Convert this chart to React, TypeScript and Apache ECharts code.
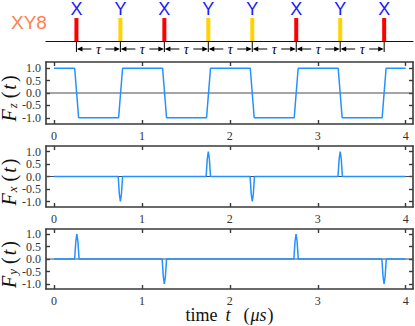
import { useEffect, useRef } from 'react';
import * as echarts from 'echarts';

const X_MIN = -0.091;
const X_MAX = 4.083;
const xTicks = [0, 1, 2, 3, 4];
const yTicks = [-1, -0.5, 0, 0.5, 1];

const sequenceName = 'XY8';
const tauLabel = 'τ';
const pulseTimes = [0.255, 0.755, 1.255, 1.755, 2.255, 2.755, 3.255, 3.755];
const pulseLabels = ['X', 'Y', 'X', 'Y', 'Y', 'X', 'Y', 'X'];

const fzPoints = [
  [0, 1], [0.235, 1], [0.28, -1], [0.735, -1], [0.78, 1], [1.235, 1], [1.28, -1],
  [1.735, -1], [1.78, 1], [2.232, 1], [2.277, -1], [2.732, -1], [2.777, 1],
  [3.232, 1], [3.277, -1], [3.732, -1], [3.777, 1], [4, 1],
];
const fxPoints = [
  [0, 0], [0.73, 0], [0.743, -0.7], [0.755, -1], [0.767, -0.7], [0.78, 0],
  [1.73, 0], [1.743, 0.7], [1.755, 1], [1.767, 0.7], [1.78, 0],
  [2.23, 0], [2.243, -0.7], [2.255, -1], [2.267, -0.7], [2.28, 0],
  [3.23, 0], [3.243, 0.7], [3.255, 1], [3.267, 0.7], [3.28, 0], [4, 0],
];
const fyPoints = [
  [0, 0], [0.235, 0], [0.248, 0.7], [0.26, 1], [0.272, 0.7], [0.285, 0],
  [1.23, 0], [1.243, -0.7], [1.255, -1], [1.267, -0.7], [1.28, 0],
  [2.728, 0], [2.741, 0.7], [2.753, 1], [2.765, 0.7], [2.778, 0],
  [3.729, 0], [3.742, -0.7], [3.754, -1], [3.766, -0.7], [3.779, 0], [4, 0],
];
const panelSubs = ['z', 'x', 'y'];
const panelRanges = [[-1.25, 1.25], [-1.22, 1.22], [-1.2, 1.2]];

const SERIF = 'Liberation Serif';
const SANS = 'Liberation Sans';
const FRAME = '#3a3a3a';
const BLUE = '#2590ff';

export default function App() {
  const ref = useRef<HTMLDivElement>(null);
  useEffect(() => {
    const chart = echarts.init(ref.current!, null, { renderer: 'svg' });
    const gb = { left: 46, width: 367, outerBoundsMode: 'none', containLabel: false };
    const grids = [
      { ...gb, top: 0, height: 41 },
      { ...gb, top: 62, height: 62 },
      { ...gb, top: 146, height: 61 },
      { ...gb, top: 229, height: 60 },
    ];
    const frameLine = { show: true, onZero: false, lineStyle: { color: FRAME, width: 1.6 } };
    const tickStyle = { inside: true, length: 4, customValues: xTicks, lineStyle: { color: FRAME, width: 1.4 } };
    const xAxes: any[] = [
      {
        gridIndex: 0, type: 'value', min: X_MIN, max: X_MAX,
        axisLine: { show: true, onZero: false, lineStyle: { color: '#111', width: 1.2 } },
        axisTick: { show: false }, axisLabel: { show: false }, splitLine: { show: false },
      },
    ];
    const yAxes: any[] = [
      { gridIndex: 0, type: 'value', min: 0, max: 1, show: false },
    ];
    const series: any[] = [];
    const datas = [fzPoints, fxPoints, fyPoints];
    for (let g = 1; g <= 3; g++) {
      const last = g === 3;
      xAxes.push({
        gridIndex: g, type: 'value', min: X_MIN, max: X_MAX, position: 'bottom',
        axisLine: frameLine, axisTick: tickStyle,
        axisLabel: { customValues: xTicks, margin: 6, fontFamily: SERIF, fontSize: 12, color: '#333' },
        splitLine: { show: false },
        ...(last ? {
          name: '{a|time}{i|t}{b|(}{m|μs}{c|)}',
          nameLocation: 'middle', nameGap: 17, nameMoveOverlap: false,
          nameTextStyle: {
            rich: {
              a: { fontFamily: SERIF, fontSize: 18, color: '#111', padding: [0, 8, 0, 0] },
              i: { fontFamily: SERIF, fontStyle: 'italic', fontSize: 18, color: '#111', padding: [0, 13, 0, 0] },
              b: { fontFamily: SERIF, fontSize: 18, color: '#111', padding: [0, 1, 0, 0] },
              m: { fontFamily: SERIF, fontStyle: 'italic', fontSize: 18, color: '#111', padding: [0, 1, 0, 0] },
              c: { fontFamily: SERIF, fontSize: 18, color: '#111' },
            },
          },
        } : {}),
      });
      xAxes.push({
        gridIndex: g, type: 'value', min: X_MIN, max: X_MAX, position: 'top',
        axisLine: frameLine, axisTick: tickStyle, axisLabel: { show: false }, splitLine: { show: false },
      });
      const [lo, hi] = panelRanges[g - 1];
      const yTickStyle = { inside: true, length: 4, customValues: yTicks, lineStyle: { color: FRAME, width: 1.4 } };
      yAxes.push({
        gridIndex: g, type: 'value', min: lo, max: hi, position: 'left',
        axisLine: frameLine, axisTick: yTickStyle,
        axisLabel: {
          customValues: yTicks, margin: 5, fontFamily: SERIF, fontSize: 12, color: '#333',
          formatter: (v: number) => v.toFixed(1),
        },
        splitLine: { show: false },
        name: `{f|F}{s|${panelSubs[g - 1]}}{o|(}{t|t}{c|)}`,
        nameLocation: 'middle', nameGap: 27, nameRotate: 90, nameMoveOverlap: false,
        nameTextStyle: {
          rich: {
            f: { fontFamily: SERIF, fontStyle: 'italic', fontSize: 20, color: '#111' },
            s: { fontFamily: SERIF, fontStyle: 'italic', fontSize: 13, color: '#111', verticalAlign: 'bottom', padding: [0, 3, 0, 1] },
            o: { fontFamily: SERIF, fontSize: 20, color: '#111', padding: [0, 0, 0, 2] },
            t: { fontFamily: SERIF, fontStyle: 'italic', fontSize: 20, color: '#111', padding: [0, 2, 0, 2] },
            c: { fontFamily: SERIF, fontSize: 20, color: '#111', padding: [0, 11, 0, 0] },
          },
        },
      });
      yAxes.push({
        gridIndex: g, type: 'value', min: lo, max: hi, position: 'right',
        axisLine: frameLine, axisTick: yTickStyle, axisLabel: { show: false }, splitLine: { show: false },
      });
      const xi = 1 + (g - 1) * 2;
      const yi = 1 + (g - 1) * 2;
      series.push({
        type: 'line', xAxisIndex: xi, yAxisIndex: yi, data: [[X_MIN, 0], [X_MAX, 0]],
        showSymbol: false, symbol: 'none', silent: true, z: 1,
        lineStyle: { color: '#4a4a4a', width: 1 },
      });
      series.push({
        type: 'line', xAxisIndex: xi, yAxisIndex: yi, data: datas[g - 1],
        showSymbol: false, symbol: 'none', z: 3,
        lineStyle: { color: BLUE, width: 1.5 },
      });
    }

    series.push({
      type: 'custom', xAxisIndex: 0, yAxisIndex: 0, clip: false,
      data: pulseTimes.map((t, i) => [t, i]),
      renderItem: (params: any, api: any) => {
        const x = api.coord([api.value(0), 0])[0];
        const cs = params.coordSys;
        const base = cs.y + cs.height;
        const label = pulseLabels[api.value(1)];
        return {
          type: 'group',
          children: [
            { type: 'rect', shape: { x: x - 2, y: base - 23, width: 4, height: 23 }, style: { fill: label === 'X' ? '#ff0000' : '#ffd200' } },
            { type: 'text', x, y: base - 32, style: { text: label, align: 'center', verticalAlign: 'middle', fontSize: 18, fontFamily: SANS, fill: '#1a1aff' } },
            { type: 'line', shape: { x1: x, y1: base, x2: x, y2: base + 11 }, style: { stroke: '#000', lineWidth: 1 } },
          ],
        };
      },
    });
    series.push({
      type: 'custom', xAxisIndex: 0, yAxisIndex: 0, clip: false,
      data: pulseTimes.slice(0, -1).map((t, i) => [t, pulseTimes[i + 1]]),
      renderItem: (params: any, api: any) => {
        const x1 = api.coord([api.value(0), 0])[0];
        const x2 = api.coord([api.value(1), 0])[0];
        const cs = params.coordSys;
        const ym = cs.y + cs.height + 8;
        const mid = (x1 + x2) / 2;
        const st = { stroke: '#000', lineWidth: 1 };
        return {
          type: 'group',
          children: [
            { type: 'line', shape: { x1: x1 + 2, y1: ym, x2: mid - 7, y2: ym }, style: st },
            { type: 'line', shape: { x1: mid + 7, y1: ym, x2: x2 - 2, y2: ym }, style: st },
            { type: 'polygon', shape: { points: [[x1 + 0.5, ym], [x1 + 6, ym - 2.5], [x1 + 6, ym + 2.5]] }, style: { fill: '#000' } },
            { type: 'polygon', shape: { points: [[x2 - 0.5, ym], [x2 - 6, ym - 2.5], [x2 - 6, ym + 2.5]] }, style: { fill: '#000' } },
            { type: 'text', x: mid, y: ym, style: { text: tauLabel, align: 'center', verticalAlign: 'middle', fontSize: 14, fontStyle: 'italic', fontFamily: SERIF, fill: '#000' } },
          ],
        };
      },
    });

    chart.setOption({
      animation: false,
      grid: grids,
      xAxis: xAxes,
      yAxis: yAxes,
      series,
      graphic: [
        { type: 'text', left: 11, top: 13, style: { text: sequenceName, fontSize: 19, fontFamily: SANS, fill: '#ff7f50' } },
      ],
    });
    return () => chart.dispose();
  }, []);
  return <div ref={ref} style={{ width: 415, height: 326, position: 'absolute', left: 0, top: 0 }} />;
}
